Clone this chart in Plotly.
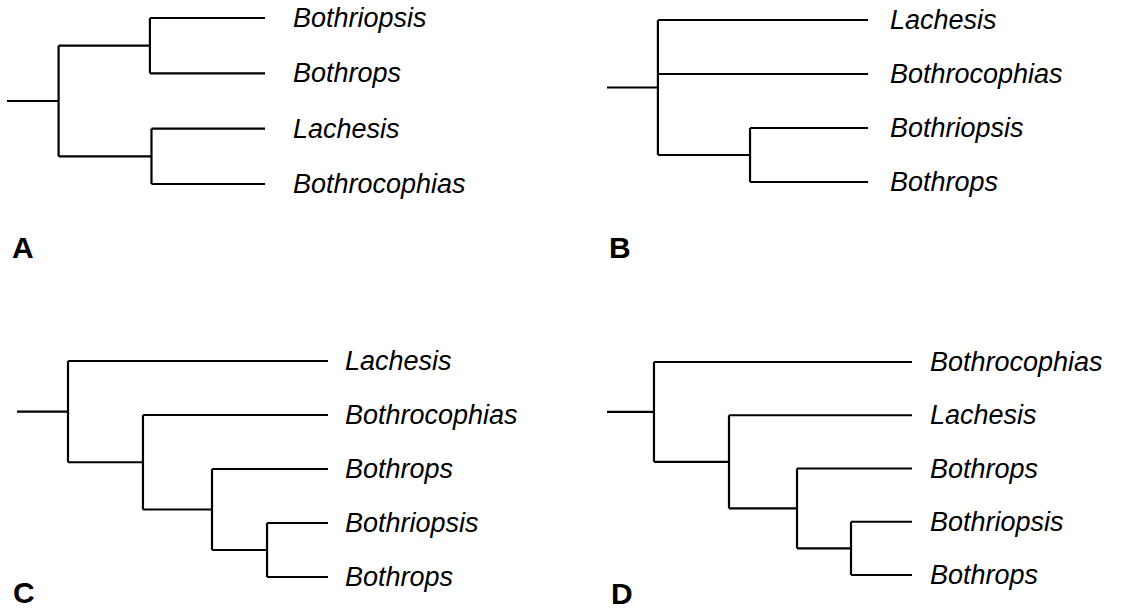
import plotly.graph_objects as go

# ---------------- data: four alternative cladograms ----------------
# taxa listed top-to-bottom; trees are (node depth, [children]) with
# children being tip indices or nested nodes; tips sit at depth 1.0
A_taxa = ["Bothriopsis", "Bothrops", "Lachesis", "Bothrocophias"]
A_tree = (0.20, [(0.554, [0, 1]), (0.56, [2, 3])])

B_taxa = ["Lachesis", "Bothrocophias", "Bothriopsis", "Bothrops"]
B_tree = (0.195, [0, 1, (0.548, [2, 3])])

C_taxa = ["Lachesis", "Bothrocophias", "Bothrops", "Bothriopsis", "Bothrops"]
C_tree = (0.164, [0, (0.405, [1, (0.627, [2, (0.804, [3, 4])])])])

D_taxa = ["Bothrocophias", "Lachesis", "Bothrops", "Bothriopsis", "Bothrops"]
D_tree = (0.154, [0, (0.40, [1, (0.623, [2, (0.80, [3, 4])])])])

panel_letters = ["A", "B", "C", "D"]
TIP_DEPTH = 1.0

# ---------------- layout frames (pixels) ----------------
W, H = 1123, 612
# x of stem start, x of tips, y of first tip, y of last tip, label gap, letter pos
frames = [
    dict(x0=7, x1=265, ytop=18, ybot=184, gap=26, lx=10, ly=247),
    dict(x0=607, x1=868, ytop=20, ybot=182, gap=20, lx=607, ly=247),
    dict(x0=17, x1=328, ytop=361, ybot=577, gap=15, lx=11, ly=592),
    dict(x0=607, x1=912, ytop=362, ybot=575, gap=16, lx=609, ly=593),
]
panels = [(A_taxa, A_tree), (B_taxa, B_tree), (C_taxa, C_tree), (D_taxa, D_tree)]


def node_y(node):
    if isinstance(node, int):
        return float(node)
    _, ch = node
    return (node_y(ch[0]) + node_y(ch[-1])) / 2.0


def segments(node, xs, ys):
    depth, ch = node
    # vertical connector
    xs += [depth, depth, None]
    ys += [node_y(ch[0]), node_y(ch[-1]), None]
    for c in ch:
        cd = TIP_DEPTH if isinstance(c, int) else c[0]
        cy = node_y(c)
        xs += [depth, cd, None]
        ys += [cy, cy, None]
        if not isinstance(c, int):
            segments(c, xs, ys)


fig = go.Figure()
annotations = []
layout_axes = {}
for k, ((taxa, tree), fr) in enumerate(zip(panels, frames), start=1):
    xs, ys = [], []
    ry = node_y(tree)
    xs += [0.0, tree[0], None]
    ys += [ry, ry, None]
    segments(tree, xs, ys)
    sfx = "" if k == 1 else str(k)
    fig.add_trace(go.Scatter(
        x=xs, y=ys, mode="lines",
        line=dict(color="black", width=2.2),
        xaxis="x" + sfx, yaxis="y" + sfx,
        hoverinfo="skip", showlegend=False,
    ))
    s = fr["x1"] - fr["x0"]
    step = (fr["ybot"] - fr["ytop"]) / (len(taxa) - 1)
    xa = dict(domain=[0, 1], range=[-fr["x0"] / s, (W - fr["x0"]) / s],
              visible=False, fixedrange=True, anchor="y" + sfx)
    ya = dict(domain=[0, 1], range=[(H - fr["ytop"]) / step, -fr["ytop"] / step],
              visible=False, fixedrange=True, anchor="x" + sfx)
    if k > 1:
        xa["overlaying"] = "x"
        ya["overlaying"] = "y"
    layout_axes["xaxis" + sfx] = xa
    layout_axes["yaxis" + sfx] = ya
    for i, name in enumerate(taxa):
        annotations.append(dict(
            x=TIP_DEPTH, y=i, xref="x" + sfx, yref="y" + sfx,
            text=name, showarrow=False, xanchor="left", yanchor="middle",
            xshift=fr["gap"],
            font=dict(family="Liberation Sans, Arial, sans-serif", size=27,
                      color="black", style="italic"),
        ))
    annotations.append(dict(
        x=fr["lx"] / W, y=1 - fr["ly"] / H, xref="paper", yref="paper",
        text="<b>" + panel_letters[k - 1] + "</b>", showarrow=False,
        xanchor="left", yanchor="middle",
        font=dict(family="Liberation Sans, Arial, sans-serif", size=30, color="black"),
    ))

fig.update_layout(
    width=W, height=H,
    margin=dict(l=0, r=0, t=0, b=0, pad=0),
    paper_bgcolor="white", plot_bgcolor="white",
    annotations=annotations,
    **layout_axes,
)
fig.write_html(
    "out.html",
    config={"displayModeBar": False},
    post_script="document.body.style.margin='0';document.body.style.overflow='hidden';",
)
